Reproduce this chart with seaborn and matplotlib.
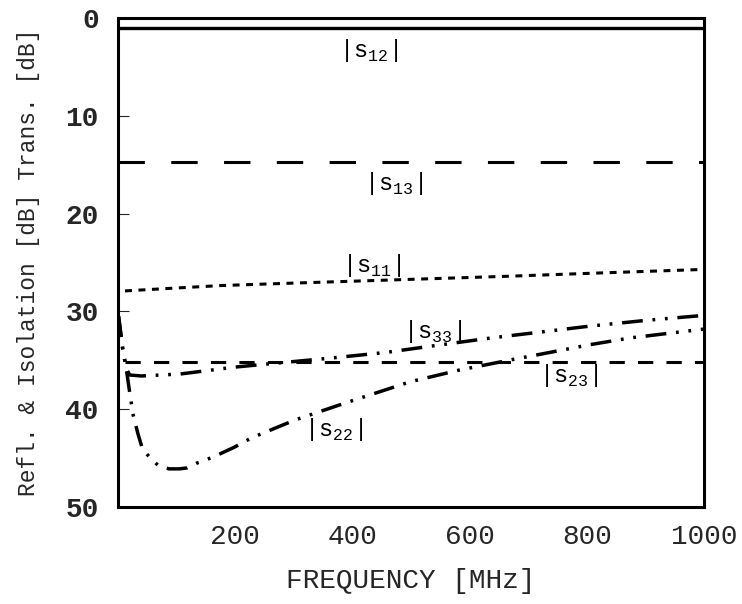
import numpy as np
import pandas as pd
import matplotlib
matplotlib.use("Agg")
import matplotlib.pyplot as plt
import seaborn as sns

# values (frequency in MHz, level in dB)
freq_s12 = [0, 1000]
s12 = [1.0, 1.0]

freq_s13 = [0, 1000]
s13 = [14.7, 14.7]

freq_s11 = [12, 100, 176, 300, 456, 666, 805, 1000]
s11 = [27.9, 27.6, 27.35, 27.1, 26.8, 26.4, 26.1, 25.7]

freq_s23 = [12, 1000]
s23 = [35.2, 35.2]

freq_s22 = [1, 8, 14, 20, 26, 34, 41, 48, 60, 70, 87, 105, 118, 135, 162, 198,
            229, 302, 386, 498, 582, 666, 736, 805, 875, 1000]
s22 = [30.5, 33.8, 35.8, 38.3, 40.6, 42.5, 43.9, 44.5, 45.3, 45.8, 46.1, 46.1,
       46.0, 45.5, 44.9, 43.9, 42.9, 41.1, 39.4, 37.2, 36.0, 35.0, 34.2, 33.4,
       32.7, 31.8]

freq_s33 = [1, 8, 14, 20, 40, 106, 198, 268, 358, 456, 540, 638, 722, 805, 903, 1000]
s33 = [30.5, 33.8, 35.8, 36.5, 36.6, 36.4, 35.7, 35.3, 34.8, 34.2, 33.5, 32.7,
       32.1, 31.5, 30.9, 30.4]

# label texts and where they sit
label_names = ["12", "13", "11", "33", "23", "22"]
label_freq = [427, 470, 433, 536, 768, 367]
label_db = [3.3, 16.9, 25.3, 32.1, 36.6, 42.1]

x_ticks = [200, 400, 600, 800, 1000]
y_ticks = [0, 10, 20, 30, 40, 50]

sns.set_style("white")
plt.rcParams["font.family"] = ["Liberation Mono", "DejaVu Sans Mono"]
plt.rcParams["mathtext.fontset"] = "custom"
plt.rcParams["mathtext.rm"] = "Liberation Mono"
plt.rcParams["lines.scale_dashes"] = False

fig = plt.figure(figsize=(7.42, 6.04), dpi=100)
ax = fig.add_axes([0.159, 0.1606, 0.790, 0.8094])

series = [
    (freq_s12, s12, "-", 2.4),
    (freq_s13, s13, (0, (19, 19)), 2.2),
    (freq_s11, s11, (0, (5, 4.7)), 2.2),
    (freq_s23, s23, (0, (11, 9.5)), 2.2),
    (freq_s22, s22, (0, (15, 7, 2, 7, 2, 7)), 2.5),
    (freq_s33, s33, (0, (15, 7, 2, 7, 2, 7)), 2.5),
]
for fx, fy, ls, lw in series:
    df = pd.DataFrame({"freq": fx, "db": fy})
    sns.lineplot(data=df, x="freq", y="db", ax=ax, color="black",
                 linestyle=ls, linewidth=lw, sort=False, errorbar=None)

for name, fx, fy in zip(label_names, label_freq, label_db):
    ax.text(fx, fy, r"$|\mathrm{s}_{%s}|$" % name, fontsize=17,
            ha="center", va="center", color="black")

ax.set_xlim(0, 1000)
ax.set_ylim(50, 0)
ax.set_xticks(x_ticks)
ax.set_xticklabels([str(v) for v in x_ticks], fontsize=20)
ax.set_yticks(y_ticks)
ax.set_yticklabels([str(v) for v in y_ticks], fontsize=20, fontweight="bold")
ax.tick_params(axis="x", length=0, pad=12)
ax.tick_params(axis="y", direction="in", length=8, width=0.8, pad=14, left=True)

for sp in ax.spines.values():
    sp.set_color("black")
    sp.set_linewidth(2.2)
    sp.set_visible(True)

ax.set_xlabel("FREQUENCY [MHz]", fontsize=20)
ax.set_ylabel("Refl. & Isolation [dB] Trans. [dB]", fontsize=16.5)
ax.xaxis.set_label_coords(0.5, -0.125)
ax.yaxis.set_label_coords(-0.133, 0.5)

fig.savefig("out.png", dpi=100)
